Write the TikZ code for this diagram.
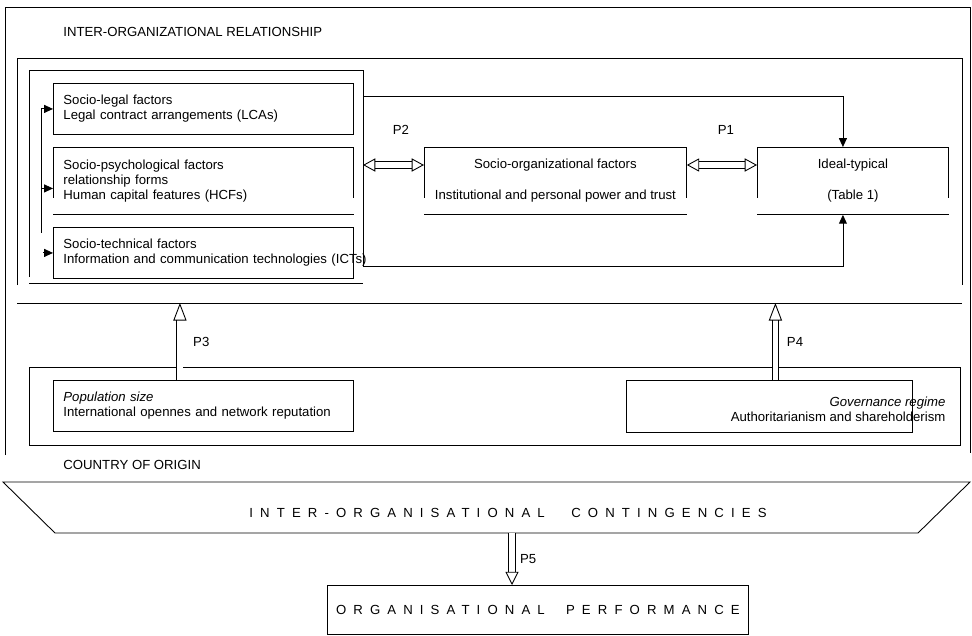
\documentclass[tikz,border=0pt]{standalone}
\usepackage{fontspec}
\setmainfont{Liberation Sans}
\usetikzlibrary{arrows.meta,positioning,calc}

\tikzset{
  factor/.style={draw, anchor=north west, minimum width=6cm, minimum height=1.02cm,
    text width=5.6cm, inner xsep=0.2cm, inner ysep=0pt, align=left},
  openbox/.style={anchor=north west, minimum height=1.34cm, inner sep=0pt, align=center},
  tip/.style={-{Triangle[length=5pt,width=4.5pt]}},
  hollow/.style={double, double distance=3pt, -{Triangle[open,length=10pt,width=7.5pt]}},
  dhollow/.style={double, double distance=3pt, {Triangle[open,length=7pt,width=7.5pt]}-{Triangle[open,length=7pt,width=7.5pt]}},
  spaced/.style={font=\fontsize{7.5}{8.5}\selectfont\addfontfeature{LetterSpace=54}}
}

\begin{document}
\begin{tikzpicture}[x=0.02cm, y=-0.02cm, line width=0.5pt, font=\fontsize{7.5}{8.5}\selectfont]
            \useasboundingbox (0,0) rectangle (972,635);
            \draw (5,455) |- (970,7) -- (970,453);
            \node[anchor=west, inner sep=0pt] (ior) at (63,32) {INTER-ORGANIZATIONAL RELATIONSHIP};
            \draw (17,285) |- (962,58) -- (962,285);
            \draw (17,303) -- (962,303);
            \coordinate (f2b) at (17,303);
            \draw (29,277) |- (363,70) -- (363,267);
            \draw (29,283) -- (363,283);
            \coordinate (f3e) at (363,0);

            \node[factor] (lca) at (53,83) {Socio-legal factors\\Legal contract arrangements (LCAs)};
            \node[factor, draw=none, minimum height=1.34cm] (hcf) at (53,147)
                {Socio-psychological factors\\relationship forms\\Human capital features (HCFs)};
            \draw ([yshift=0.34cm]hcf.south west) |- (hcf.north east) -- ([yshift=0.34cm]hcf.south east);
            \draw (hcf.south west) -- (hcf.south east);
            \node[factor] (ict) at (53,227) {Socio-technical factors\\\mbox{Information and communication technologies (ICTs)}};

            \coordinate (fb) at (41,0);
            \draw (fb |- lca.west) -- (41,233);
            \draw[tip] (fb |- lca.west) -- (lca.west);
            \draw[tip] ([yshift=-0.15cm]fb |- hcf.west) -- ([yshift=-0.15cm]hcf.west);
            \draw[tip] ([xshift=0.04cm]fb |- ict.west) -- (ict.west);

            \node[openbox, minimum width=5.24cm] (sorg) at (424,147)
                {Socio-organizational factors\\[9pt]Institutional and personal power and trust};
            \draw ([yshift=0.34cm]sorg.south west) |- (sorg.north east) -- ([yshift=0.34cm]sorg.south east);
            \draw (sorg.south west) -- (sorg.south east);
            \node[openbox, minimum width=3.82cm] (ideal) at (757,147) {Ideal-typical\\[9pt](Table 1)};
            \draw ([yshift=0.34cm]ideal.south west) |- (ideal.north east) -- ([yshift=0.34cm]ideal.south east);
            \draw (ideal.south west) -- (ideal.south east);

            \draw[tip] (f3e |- 0,96) -| ([xshift=-0.2cm]ideal.north);
            \draw[tip] (f3e |- 0,266) -| ([xshift=-0.2cm]ideal.south);
            \coordinate (p2) at ([yshift=-0.36cm]sorg.north west);
            \draw[dhollow] (p2 -| f3e) -- (p2);
            \draw[dhollow] ([yshift=-0.36cm]sorg.north east) -- ([yshift=-0.36cm]ideal.north west);
            \node (lp2) at (401,130) {P2};
            \node (lp1) at (726,130) {P1};

            \draw (29,367) rectangle (960,445);
            \node[factor] (pop) at (53,380) {\textit{Population size}\\International opennes and network reputation};
            \node[draw, anchor=north west, minimum width=5.72cm, minimum height=1.04cm] (gov) at (626,380) {};
            \node[anchor=east, align=right, inner sep=0pt] (govt) at ([xshift=0.66cm,yshift=-0.05cm]gov.east)
                {\textit{Governance regime}\\Authoritarianism and shareholderism};
            \draw[hollow] ([xshift=-0.47cm]pop.north) -- ([xshift=-0.47cm]pop.north |- f2b)
                node[midway, right=4pt] (lp3) {P3};
            \draw[hollow] ([xshift=0.12cm]gov.north) -- ([xshift=0.12cm]gov.north |- f2b)
                node[midway, right=3pt] (lp4) {P4};
            \node[anchor=west, inner sep=0pt] (coo) at (63,465) {COUNTRY OF ORIGIN};

            \draw (3,482) -- (970,482) -- (918,533) -- (55,533) -- cycle;
            \node[spaced] (cont) at (508,513) {INTER-ORGANISATIONAL\hspace{9pt} CONTINGENCIES};
            \coordinate (cb) at (512,533);
            \node[draw, anchor=north west, minimum width=8.42cm, minimum height=0.98cm, spaced] (perf) at (327,585)
                {ORGANISATIONAL\hspace{6pt} PERFORMANCE};
            \draw[hollow, -{Triangle[open,length=7.5pt,width=7.5pt]}] (cb) -- (cb |- perf.north)
                node[midway, right=1pt] (lp5) {P5};
        \end{tikzpicture}
\end{document}
